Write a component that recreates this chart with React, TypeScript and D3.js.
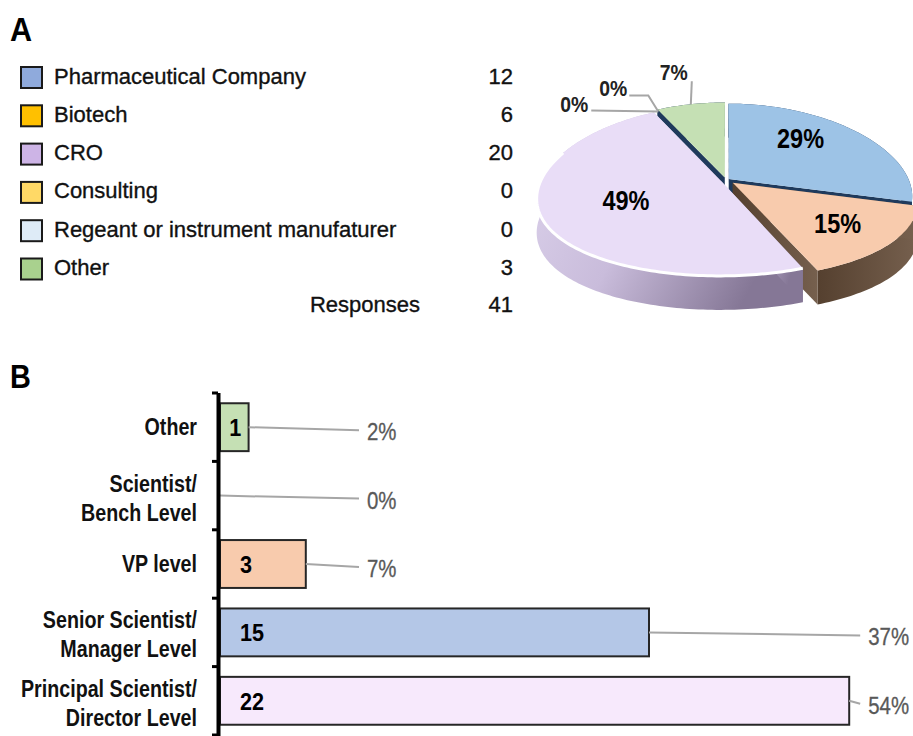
import React from 'react';
import * as d3 from 'd3';

const WIDTH = 913;
const HEIGHT = 736;
const FONT = "'Liberation Sans', Arial, Helvetica, sans-serif";

// ---- Panel A: company type ----
const companyTypes = [
  'Pharmaceutical Company',
  'Biotech',
  'CRO',
  'Consulting',
  'Regeant or instrument manufaturer',
  'Other',
];
const companyCounts = [12, 6, 20, 0, 0, 3];
const legendColors = ['#8FAADC', '#FFC000', '#CDB4E6', '#FFD966', '#DEEBF7', '#A9D18E'];
const pieTopColors = ['#9DC3E6', '#F8CBAD', '#E9DDF7', '#FFE699', '#DEEBF7', '#C5E0B4'];
const pieWallColors = ['#1F3A5C', 'url(#wall-orange)', 'url(#wall-purple)', '#1F3A5C', '#1F3A5C', '#1F3A5C'];
const pieExplode = [0.02, 0.05, 0.03, 0, 0, 0.03];
const pieDrawOrder = [5, 4, 3, 0, 1, 2];

// ---- Panel B: job level ----
const roleLabels = [
  ['Other'],
  ['Scientist/', 'Bench Level'],
  ['VP level'],
  ['Senior Scientist/', 'Manager Level'],
  ['Principal Scientist/', 'Director Level'],
];
const roleCounts = [1, 0, 3, 15, 22];
const roleColors = ['#C5E0B4', '#FFFFFF', '#F8CBAD', '#B4C7E7', '#F7E9FC'];

type TxtProps = {
  x: number;
  y: number;
  size: number;
  weight?: string | number;
  sx?: number;
  anchor?: 'start' | 'middle' | 'end';
  fill?: string;
  stroke?: number;
  children: React.ReactNode;
};

const Txt = ({ x, y, size, weight = 'normal', sx = 1, anchor = 'start', fill = '#111', stroke = 0, children }: TxtProps) => (
  <text
    transform={`translate(${x},${y}) scale(${sx},1)`}
    fontFamily={FONT}
    fontSize={size}
    fontWeight={weight}
    textAnchor={anchor}
    fill={fill}
    stroke={stroke ? fill : 'none'}
    strokeWidth={stroke}
  >
    {children}
  </text>
);

// tilted pie with a little perspective (back narrower than front)
const P = { cx: 726, cy: 180, rx: 180, ry: 84, a: 0.112, b: 0.2, depth: 34 };
const project = (u: number, w: number, z = 0): [number, number] => [
  P.cx + (P.rx * u) / (1 + P.b * w),
  P.cy + (-P.ry * w) / (1 + P.a * w) + z * P.depth,
];

function Legend() {
  const row = d3.scaleLinear().domain([0, 6]).range([77.5, 307.3]);
  return (
    <g>
      {companyTypes.map((name, i) => (
        <g key={name}>
          <rect x={21} y={row(i) - 10.5} width={21} height={21} fill={legendColors[i]} stroke="#1a1a1a" strokeWidth={2} />
          <Txt x={54} y={row(i) + 6} size={22} stroke={0.35}>{name}</Txt>
          <Txt x={513} y={row(i) + 6} size={22} anchor="end" stroke={0.35}>{companyCounts[i]}</Txt>
        </g>
      ))}
      <Txt x={420} y={row(6) + 5} size={22} anchor="end" stroke={0.35}>Responses</Txt>
      <Txt x={513} y={row(6) + 5} size={22} anchor="end" stroke={0.35}>{d3.sum(companyCounts)}</Txt>
    </g>
  );
}

function Pie3D() {
  const total = d3.sum(companyCounts);
  const fmt = d3.format('.0%');
  const arcs = d3.pie<number>().sort(null)(companyCounts);
  const line = d3.line();

  const slices = arcs.map((a, i) => {
    const mid = (a.startAngle + a.endAngle) / 2;
    const e = pieExplode[i];
    const eu = e * Math.sin(mid);
    const ew = e * Math.cos(mid);
    const rim = (t: number, z = 0, r = 1) => project(r * Math.sin(t) + eu, r * Math.cos(t) + ew, z);
    const apex = (z: number) => project(eu, ew, z);
    const n = Math.max(2, Math.ceil((a.endAngle - a.startAngle) / 0.02));
    const ts = d3.range(n + 1).map((k) => a.startAngle + ((a.endAngle - a.startAngle) * k) / n);
    const top = line([apex(0), ...ts.map((t) => rim(t))]) + 'Z';
    const wall = line([...ts.map((t) => rim(t, 0)), ...ts.slice().reverse().map((t) => rim(t, 1))]) + 'Z';
    const face = (t: number) => line([apex(0), rim(t, 0), rim(t, 1), apex(1)]) + 'Z';
    const front = line(ts.filter((t) => Math.cos(t) < 0.35).map((t) => rim(t)));
    return { a, i, mid, rim, top, wall, startFace: face(a.startAngle), endFace: face(a.endAngle), front };
  });

  // label nudges (Excel places the inside labels a bit off the mid-angle)
  const nudge: Record<number, [number, number]> = { 0: [-8, -12], 1: [16, 5], 2: [9, -2] };
  const outer: Record<number, { pts: [number, number][]; text: [number, number] }> = {
    3: { pts: [[0, 0], [-10, -16], [-29, -16]], text: [-31, -16] },
    4: { pts: [[0, 0], [-67, -1]], text: [-70, 0] },
    5: { pts: [[0, 0], [1, -23]], text: [-3, -24] },
  };

  return (
    <g>
      <defs>
        <linearGradient id="wall-purple" x1="0" x2="1" y1="0" y2="0.4">
          <stop offset="0" stopColor="#DDD3EC" />
          <stop offset="0.5" stopColor="#C9BCDB" />
          <stop offset="1" stopColor="#857796" />
        </linearGradient>
        <linearGradient id="wall-orange" x1="0" x2="1" y1="0" y2="0">
          <stop offset="0" stopColor="#55402F" />
          <stop offset="1" stopColor="#76604E" />
        </linearGradient>
      </defs>
      {pieDrawOrder
        .filter((i) => companyCounts[i] > 0)
        .map((i) => {
          const s = slices[i];
          return (
            <g key={i}>
              <path d={s.wall} fill={pieWallColors[i]} />
              <path d={s.startFace} fill={pieWallColors[i]} />
              <path d={s.endFace} fill={pieWallColors[i]} />
              <path d={s.top} fill={pieTopColors[i]} />
              {i === 2 && s.front && <path d={s.front} fill="none" stroke="#FFFFFF" strokeWidth={3} />}
            </g>
          );
        })}
      {slices
        .filter((s) => companyCounts[s.i] / total >= 0.1)
        .map((s) => {
          const [lx, ly] = s.rim(s.mid, 0, 0.6);
          const [nx, ny] = nudge[s.i] || [0, 0];
          return (
            <Txt key={s.i} x={lx + nx} y={ly + ny + 10} size={28} weight="bold" sx={0.84} anchor="middle" fill="#000">
              {fmt(companyCounts[s.i] / total)}
            </Txt>
          );
        })}
      {slices
        .filter((s) => outer[s.i])
        .map((s) => {
          const [ax, ay] = s.rim(s.mid);
          const o = outer[s.i];
          return (
            <g key={s.i}>
              <path
                d={line(o.pts.map(([dx, dy]) => [ax + dx, ay + dy] as [number, number])) || ''}
                fill="none"
                stroke="#A6A6A6"
                strokeWidth={2}
              />
              <Txt x={ax + o.text[0]} y={ay + o.text[1]} size={22} weight="bold" sx={0.88} anchor="end" fill="#222">
                {fmt(companyCounts[s.i] / total)}
              </Txt>
            </g>
          );
        })}
    </g>
  );
}

function BarsB() {
  const keys = roleLabels.map((l) => l.join(' '));
  const y = d3.scaleBand().domain(keys).range([393, 735]).paddingInner(0.3).paddingOuter(0.15);
  const x = d3.scaleLinear().domain([0, 25]).range([220, 935]);
  const total = d3.sum(roleCounts);
  const fmt = d3.format('.0%');
  const step = y.step();
  const bw = y.bandwidth();
  const tickYs = d3.range(keys.length + 1).map((k) => y.range()[0] + k * step);
  const maxV = d3.max(roleCounts) || 0;

  return (
    <g>
      {keys.map((k, i) => {
        const v = roleCounts[i];
        const y0 = y(k) || 0;
        const yc = y0 + bw / 2;
        const w = x(v) - x(0);
        const labelX = v < 5 ? x(5) + 4 : x(maxV) + 19;
        const lines = roleLabels[i];
        return (
          <g key={k}>
            {v > 0 && (
              <rect x={x(0)} y={y0} width={w} height={bw} fill={roleColors[i]} stroke="#262626" strokeWidth={2} />
            )}
            {v > 0 && (
              <Txt x={x(0) + Math.min(20, w / 2 - 5)} y={yc + 9} size={24} weight="bold" sx={0.9} fill="#000">
                {v}
              </Txt>
            )}
            <line x1={x(v)} y1={yc} x2={labelX - 8} y2={yc + 3} stroke="#A6A6A6" strokeWidth={2} />
            <Txt x={labelX} y={yc + 13} size={24} sx={0.85} fill="#595959" stroke={0.3}>
              {fmt(v / total)}
            </Txt>
            {lines.length === 1 ? (
              <Txt x={197} y={yc + 8} size={24} weight="bold" sx={0.82} anchor="end" fill="#111">
                {lines[0]}
              </Txt>
            ) : (
              lines.map((t, j) => (
                <Txt key={t} x={197} y={yc - 4 + j * 29} size={24} weight="bold" sx={0.82} anchor="end" fill="#111">
                  {t}
                </Txt>
              ))
            )}
          </g>
        );
      })}
      <line x1={218.5} y1={tickYs[0]} x2={218.5} y2={HEIGHT} stroke="#000" strokeWidth={4} />
      {tickYs.map((t) => (
        <line key={t} x1={212} y1={t} x2={218} y2={t} stroke="#000" strokeWidth={3} />
      ))}
    </g>
  );
}

export default function App() {
  return (
    <svg
      width={WIDTH}
      height={HEIGHT}
      style={{ position: 'absolute', left: 0, top: 0, background: '#fff' }}
    >
      <rect width={WIDTH} height={HEIGHT} fill="#fff" />
      <Txt x={10} y={41} size={34} weight="bold" sx={0.9} fill="#000">A</Txt>
      <Legend />
      <Pie3D />
      <Txt x={10} y={388} size={34} weight="bold" sx={0.85} fill="#000">B</Txt>
      <BarsB />
    </svg>
  );
}
